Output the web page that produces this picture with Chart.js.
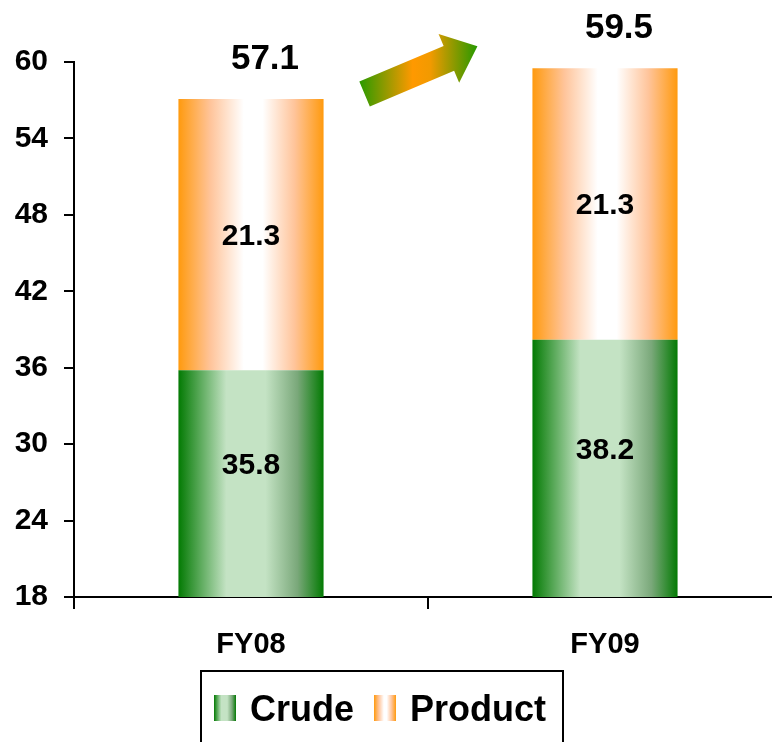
<!DOCTYPE html>
<html>
<head>
<meta charset="utf-8">
<script src="https://cdn.jsdelivr.net/npm/chart.js@4"></script>
<style>
  html, body { margin: 0; padding: 0; background: #fff; overflow: hidden; }
  #wrap { width: 782px; height: 742px; }
</style>
</head>
<body>
<div id="wrap"><canvas id="volChart"></canvas></div>
<script>
const years = ["FY08", "FY09"];
const crude = [35.8, 38.2];
const product = [21.3, 21.3];
const yTicks = [18, 24, 30, 36, 42, 48, 54, 60];

const FONT = "'Liberation Sans', Arial, sans-serif";
const BAR_PCT = 0.41;

// horizontal "cylinder" shading for each series
const shades = {
    crude: [[0, '#037a03'], [0.33, '#c4e3c4'], [0.6, '#c4e3c4'], [0.82, '#7aa87a'], [1, '#037a03']],
    product: [[0, '#ff9a0e'], [0.22, '#ffc49a'], [0.45, '#ffffff'], [0.58, '#ffffff'], [0.8, '#ffc49a'], [1, '#ff9a0e']]
};

function makeGradient(c, left, right, stops) {
    const g = c.createLinearGradient(left, 0, right, 0);
    stops.forEach(s => g.addColorStop(s[0], s[1]));
    return g;
}

function barFill(key) {
    return function (context) {
        const chart = context.chart;
        const xs = chart.scales.x;
        if (!chart.chartArea || !xs) return shades[key][0][1];
        const w = xs.width / years.length * BAR_PCT;
        const cx = xs.getPixelForValue(context.dataIndex);
        return makeGradient(chart.ctx, cx - w / 2, cx + w / 2, shades[key]);
    };
}

// numbers inside the segments and totals above each stack
const labelPlugin = {
    id: 'stackLabels',
    afterDatasetsDraw(chart) {
        const c = chart.ctx;
        c.save();
        c.fillStyle = '#000';
        c.textAlign = 'center';
        c.textBaseline = 'middle';
        c.font = 'bold 30px ' + FONT;
        chart.data.datasets.forEach((ds, i) => {
            const meta = chart.getDatasetMeta(i);
            meta.data.forEach((bar, j) => {
                const bottom = Math.min(bar.base, chart.chartArea.bottom);
                const shift = i === 0 ? -18 : 2;
                c.fillText(ds.data[j].toFixed(1), bar.x, (bar.y + bottom) / 2 + shift);
            });
        });
        c.font = 'bold 35px ' + FONT;
        const top = chart.getDatasetMeta(1).data;
        top.forEach((bar, j) => {
            const total = crude[j] + product[j];
            c.fillText(total.toFixed(1), bar.x + 14, bar.y - 40);
        });
        c.restore();
    }
};

// growth arrow between the two stacks
const arrowPlugin = {
    id: 'growthArrow',
    afterDatasetsDraw(chart) {
        const bars = chart.getDatasetMeta(1).data;
        if (bars.length < 2) return;
        const a = bars[0], b = bars[1];
        const tx = a.x + a.width / 2 + 41, ty = a.y - 5;
        const hx = b.x - b.width / 2 - 55, hy = b.y - 22;
        const len = Math.hypot(hx - tx, hy - ty);
        const ang = Math.atan2(hy - ty, hx - tx);
        const shaft = 13.5, head = 26.5, headLen = 31;

        const c = chart.ctx;
        c.save();
        const g = c.createLinearGradient(tx - 5, 0, hx, 0);
        g.addColorStop(0, '#2a9a00');
        g.addColorStop(0.45, '#ff9900');
        g.addColorStop(0.6, '#f29a00');
        g.addColorStop(1, '#279900');
        c.translate(tx, ty);
        c.rotate(ang);
        c.beginPath();
        c.moveTo(0, -shaft);
        c.lineTo(len - headLen, -shaft);
        c.lineTo(len - headLen, -head);
        c.lineTo(len, 0);
        c.lineTo(len - headLen, head);
        c.lineTo(len - headLen, shaft);
        c.lineTo(0, shaft);
        c.closePath();
        c.setTransform(1, 0, 0, 1, 0, 0);
        c.fillStyle = g;
        c.fill();
        c.restore();
    }
};

// boxed legend under the category labels
const legendPlugin = {
    id: 'boxLegend',
    afterDraw(chart) {
        const c = chart.ctx;
        c.save();
        c.strokeStyle = '#000';
        c.lineWidth = 2;
        c.strokeRect(201, 671, 362, 90);
        c.font = 'bold 36px ' + FONT;
        c.textBaseline = 'alphabetic';
        c.textAlign = 'left';
        c.fillStyle = '#000';
        const items = [
            { label: chart.data.datasets[0].label, key: 'crude', x: 214 },
            { label: chart.data.datasets[1].label, key: 'product', x: 374 }
        ];
        items.forEach(it => {
            c.fillStyle = makeGradient(c, it.x, it.x + 22, shades[it.key]);
            c.fillRect(it.x, 695, 22, 26);
            c.fillStyle = '#000';
            c.fillText(it.label, it.x + 36, 721);
        });
        c.restore();
    }
};

new Chart(document.getElementById('volChart'), {
    type: 'bar',
    data: {
        labels: years,
        datasets: [
            { label: 'Crude', data: crude, backgroundColor: barFill('crude'), borderWidth: 0 },
            { label: 'Product', data: product, backgroundColor: barFill('product'), borderWidth: 0 }
        ]
    },
    options: {
        responsive: true,
        maintainAspectRatio: false,
        animation: false,
        layout: { padding: { top: 62, left: 0, right: 0, bottom: 0 } },
        datasets: { bar: { barPercentage: BAR_PCT, categoryPercentage: 1 } },
        plugins: { legend: { display: false }, tooltip: { enabled: false } },
        scales: {
            x: {
                stacked: true,
                afterFit: s => { s.height = 145; },
                border: { color: '#000', width: 2 },
                grid: { drawOnChartArea: false, color: '#000', lineWidth: 2, tickLength: 12, offset: true },
                ticks: { color: '#000', padding: 19, font: { family: FONT, size: 29, weight: 'bold' } }
            },
            y: {
                stacked: true,
                min: yTicks[0],
                max: yTicks[yTicks.length - 1],
                afterFit: s => { s.width = 74; },
                afterBuildTicks: s => { s.ticks = yTicks.map(v => ({ value: v })); },
                border: { color: '#000', width: 2 },
                grid: { drawOnChartArea: false, color: '#000', lineWidth: 2, tickLength: 10 },
                ticks: { color: '#000', padding: 16, font: { family: FONT, size: 30, weight: 'bold' } }
            }
        }
    },
    plugins: [labelPlugin, arrowPlugin, legendPlugin]
});
</script>
</body>
</html>
